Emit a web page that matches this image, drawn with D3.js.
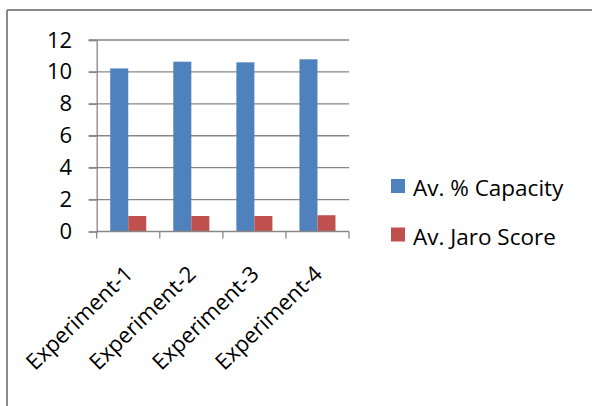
<!DOCTYPE html>
<html>
<head>
<meta charset="utf-8">
<script src="https://cdn.jsdelivr.net/npm/d3@7"></script>
<style>
  html, body { margin: 0; padding: 0; background: #fff; }
  svg { display: block; }
  text { font-family: "Open Sans", "Liberation Sans", sans-serif; fill: #000; }
</style>
</head>
<body>
<svg id="chart" width="592" height="406"></svg>
<script>
// Experiment averages
const categories = ["Experiment-1", "Experiment-2", "Experiment-3", "Experiment-4"];
const capacity = [10.22, 10.64, 10.60, 10.79];
const jaro = [0.97, 0.97, 0.97, 1.02];
const seriesNames = ["Av. % Capacity", "Av. Jaro Score"];
const seriesColors = ["#4F81BD", "#C0504D"];
const yTicks = [0, 2, 4, 6, 8, 10, 12];

const svg = d3.select("#chart");
const W = 592, H = 406;

// outer frame (only top and left edges fall inside the view)
svg.append("line").attr("x1", 7).attr("x2", W).attr("y1", 10).attr("y2", 10)
  .attr("stroke", "#8a8a8a").attr("stroke-width", 2);
svg.append("line").attr("x1", 7).attr("x2", 7).attr("y1", 10).attr("y2", H)
  .attr("stroke", "#8a8a8a").attr("stroke-width", 2);

const plot = { left: 96.7, right: 349, top: 40, bottom: 231.5 };

const x0 = d3.scaleBand().domain(categories).range([plot.left, plot.right]).paddingInner(0).paddingOuter(0);
const x1 = d3.scaleBand().domain([0, 1]).range([0, x0.bandwidth()]).paddingOuter(0.75).paddingInner(0);
const y = d3.scaleLinear().domain([0, 12]).range([plot.bottom, plot.top]);

const gridColor = "#878787";

// horizontal gridlines
svg.append("g").selectAll("line").data(yTicks.filter(d => d > 0)).join("line")
  .attr("x1", plot.left - 8).attr("x2", plot.right)
  .attr("y1", d => y(d)).attr("y2", d => y(d))
  .attr("stroke", gridColor).attr("stroke-width", 1.3);

// bars
const rows = categories.map((c, i) => ({ c, v: [capacity[i], jaro[i]] }));
const grp = svg.append("g").selectAll("g").data(rows).join("g")
  .attr("transform", d => `translate(${x0(d.c)},0)`);
grp.selectAll("rect").data(d => d.v.map((v, k) => ({ v, k }))).join("rect")
  .attr("x", d => x1(d.k)).attr("width", x1.bandwidth())
  .attr("y", d => y(d.v)).attr("height", d => y(0) - y(d.v))
  .attr("fill", d => seriesColors[d.k]);

// y axis
const yAxis = svg.append("g").attr("transform", `translate(${plot.left},0)`)
  .call(d3.axisLeft(y).tickValues(yTicks).tickSize(8).tickPadding(16.5).tickFormat(d3.format("d")));
yAxis.select(".domain").attr("stroke", gridColor).attr("stroke-width", 1.3);
yAxis.selectAll(".tick line").attr("stroke", gridColor).attr("stroke-width", 1.3);
yAxis.selectAll(".tick text").attr("font-size", 22).attr("font-family", "'Open Sans', sans-serif").attr("fill", "#000");

// x axis with boundary ticks
const xAxisG = svg.append("g").attr("transform", `translate(0,${plot.bottom})`);
xAxisG.append("line").attr("x1", plot.left).attr("x2", plot.right)
  .attr("stroke", gridColor).attr("stroke-width", 1.3);
const bounds = categories.map(c => x0(c)).concat([x0(categories[categories.length - 1]) + x0.bandwidth()]);
xAxisG.selectAll("line.tk").data(bounds).join("line").attr("class", "tk")
  .attr("x1", d => d).attr("x2", d => d).attr("y1", 0).attr("y2", 7)
  .attr("stroke", gridColor).attr("stroke-width", 1.3);
xAxisG.selectAll("text").data(categories).join("text")
  .attr("transform", d => `translate(${x0(d) + x0.bandwidth() / 2 + 6},${44}) rotate(-44)`)
  .attr("text-anchor", "end")
  .attr("font-size", 22)
  .text(d => d);

// legend
const leg = svg.append("g").selectAll("g").data(seriesNames).join("g")
  .attr("transform", (d, i) => `translate(391,${179 + i * 48.5})`);
leg.append("rect").attr("width", 14).attr("height", 14).attr("fill", (d, i) => seriesColors[i]);
leg.append("text").attr("x", 22).attr("y", 17)
  .attr("font-size", 22.5).text(d => d);
</script>
</body>
</html>
